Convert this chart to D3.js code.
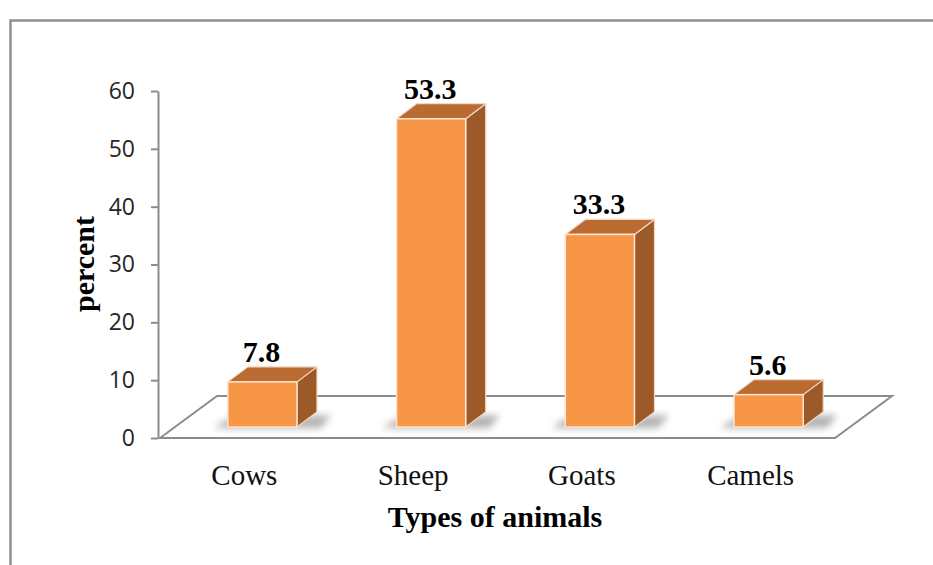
<!DOCTYPE html>
<html>
<head>
<meta charset="utf-8">
<script src="https://cdn.jsdelivr.net/npm/d3@7"></script>
<style>
  html, body { margin: 0; padding: 0; background: #fff; }
  svg { display: block; }
</style>
</head>
<body>
<svg id="chart" width="933" height="565"></svg>
<script>
// Share of animal types (percent)
const categories = ["Cows", "Sheep", "Goats", "Camels"];
const values = [7.8, 53.3, 33.3, 5.6];
const yTicks = [0, 10, 20, 30, 40, 50, 60];
const valueLabels = ["7.8", "53.3", "33.3", "5.6"];

const svg = d3.select("#chart");
const W = 933, H = 565;

// Chart frame
svg.append("rect").attr("x", 0).attr("y", 0).attr("width", W).attr("height", H).attr("fill", "#fff");
svg.append("path")
  .attr("d", `M10.5,${H} L10.5,20.5 L${W},20.5`)
  .attr("fill", "none").attr("stroke", "#8f8f8f").attr("stroke-width", 2.5);

// Scales: front plane of the floor
const x = d3.scaleBand().domain(categories).range([160, 835]);
const y = d3.scaleLinear().domain([0, 60]).range([438, 91]);

// Oblique depth vectors
const floorDepth = [57, -42];
const barShift = [18, -11];   // bars sit a little behind the floor's front edge
const barDepth = [20, -15];
const barW = x.bandwidth() * 0.41;

// Floor
const fx0 = x.range()[0], fx1 = x.range()[1], fy = y(0);
svg.append("path")
  .attr("d", `M${fx0},${fy} L${fx0 + floorDepth[0]},${fy + floorDepth[1]} L${fx1 + floorDepth[0]},${fy + floorDepth[1]} L${fx1},${fy} Z`)
  .attr("fill", "#fff").attr("stroke", "#8c8c8c").attr("stroke-width", 2).attr("stroke-linejoin", "miter");

// Y axis
const yAxis = d3.axisLeft(y).tickValues(yTicks).tickSize(7).tickPadding(16).tickSizeOuter(0);
const ax = svg.append("g").attr("transform", "translate(158,0)").call(yAxis);
ax.select(".domain").attr("stroke", "#8c8c8c").attr("stroke-width", 2);
ax.selectAll(".tick line").attr("stroke", "#8c8c8c").attr("stroke-width", 2);
ax.selectAll(".tick text")
  .attr("font-family", "'Open Sans', 'Liberation Sans', sans-serif")
  .attr("font-size", 23).attr("fill", "#262626");

// Shadow filter
const defs = svg.append("defs");
defs.append("filter").attr("id", "soft").attr("x", "-50%").attr("y", "-50%").attr("width", "200%").attr("height", "200%")
  .append("feGaussianBlur").attr("stdDeviation", 3.5);

const data = categories.map((c, i) => ({ c, v: values[i], label: valueLabels[i] }));

const bars = svg.append("g").selectAll("g").data(data).join("g");

bars.each(function(d) {
  const g = d3.select(this);
  const cx = x(d.c) + x.bandwidth() / 2 + barShift[0];
  const x0 = cx - barW / 2, x1 = cx + barW / 2;
  const yb = y(0) + barShift[1];
  const yt = y(d.v) + barShift[1];
  const dx = barDepth[0], dy = barDepth[1];

  // soft shadow cast on the floor
  g.append("path")
    .attr("d", `M${x0 - 14},${yb + 1} L${x0 + 2},${yb - 9} L${x1 + dx + 14},${yb + dy + 3} L${x1 + dx + 4},${yb + 1} Z`)
    .attr("fill", "#9a9a9a").attr("opacity", 0.75).attr("filter", "url(#soft)");

  // side face
  g.append("path")
    .attr("d", `M${x1},${yb} L${x1},${yt} L${x1 + dx},${yt + dy} L${x1 + dx},${yb + dy} Z`)
    .attr("fill", "#9b5a27").attr("stroke", "#f3d7c0").attr("stroke-width", 1.2).attr("stroke-linejoin", "round");
  // top face
  g.append("path")
    .attr("d", `M${x0},${yt} L${x0 + dx},${yt + dy} L${x1 + dx},${yt + dy} L${x1},${yt} Z`)
    .attr("fill", "#b96b31").attr("stroke", "#f3d7c0").attr("stroke-width", 1.2).attr("stroke-linejoin", "round");
  // front face
  g.append("rect")
    .attr("x", x0).attr("y", yt).attr("width", barW).attr("height", yb - yt)
    .attr("fill", "#f79646").attr("stroke", "#fbe4d2").attr("stroke-width", 1.5);

  // value label
  g.append("text")
    .attr("x", cx - 1).attr("y", yt - 20)
    .attr("text-anchor", "middle")
    .attr("font-family", "'Liberation Serif', 'Times New Roman', serif")
    .attr("font-weight", "bold").attr("font-size", 30).attr("fill", "#000")
    .text(d.label);
});

// Category labels
svg.append("g").selectAll("text").data(categories).join("text")
  .attr("x", d => x(d) + x.bandwidth() / 2)
  .attr("y", 485)
  .attr("text-anchor", "middle")
  .attr("font-family", "'Liberation Serif', 'Times New Roman', serif")
  .attr("font-size", 29).attr("fill", "#111")
  .text(d => d);

// Axis titles
svg.append("text")
  .attr("x", 495).attr("y", 527)
  .attr("text-anchor", "middle")
  .attr("font-family", "'Liberation Serif', 'Times New Roman', serif")
  .attr("font-weight", "bold").attr("font-size", 30).attr("fill", "#000")
  .text("Types of animals");

svg.append("text")
  .attr("transform", "translate(94,264) rotate(-90)")
  .attr("text-anchor", "middle")
  .attr("font-family", "'Liberation Serif', 'Times New Roman', serif")
  .attr("font-weight", "bold").attr("font-size", 30).attr("fill", "#000")
  .text("percent");
</script>
</body>
</html>
